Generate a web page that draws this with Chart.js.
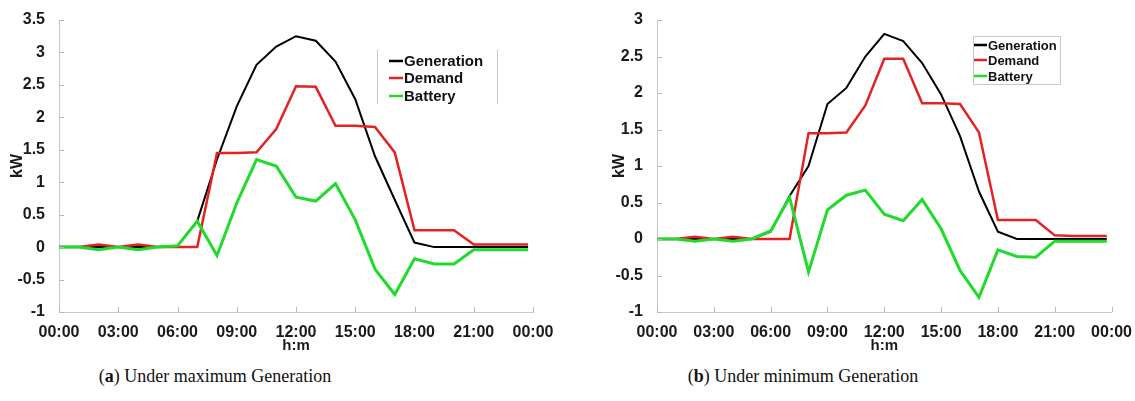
<!DOCTYPE html>
<html>
<head>
<meta charset="utf-8">
<script src="https://cdn.jsdelivr.net/npm/chart.js@4"></script>
<style>
    body { margin: 0; background: #fff; width: 1135px; height: 401px; position: relative; overflow: hidden; }
    .box { position: absolute; top: 0; height: 360px; }
    .caption { position: absolute; top: 366px; font-family: "Liberation Serif", serif; font-size: 18px; color: #111; transform: translateX(-50%); white-space: nowrap; }
</style>
</head>
<body>
<div class="box" style="left:0;width:560px"><canvas id="chartA" width="560" height="360"></canvas></div>
<div class="box" style="left:560px;width:575px"><canvas id="chartB" width="575" height="360"></canvas></div>
<div class="caption" style="left:215px">(<b>a</b>) Under maximum Generation</div>
<div class="caption" style="left:803px">(<b>b</b>) Under minimum Generation</div>
<script>
// hours of the day (last sample just before midnight)
const hours = [0, 1, 2, 3, 4, 5, 6, 7, 8, 9, 10, 11, 12, 13, 14, 15, 16, 17, 18, 19, 20, 21, 22, 23, 23.75];
const seriesNames = ["Generation", "Demand", "Battery"];
const xTicks = [0, 3, 6, 9, 12, 15, 18, 21, 24];

// (a) maximum generation, kW
const genMax = [0, 0, 0, 0, 0, 0, 0.02, 0.4, 1.35, 2.17, 2.81, 3.09, 3.25, 3.18, 2.86, 2.28, 1.4, 0.73, 0.07, 0, 0, 0, 0, 0, 0];
const demMax = [0, 0, 0.04, 0, 0.04, 0, 0, 0, 1.45, 1.45, 1.46, 1.82, 2.48, 2.47, 1.87, 1.87, 1.85, 1.46, 0.26, 0.26, 0.26, 0.04, 0.04, 0.04, 0.04];
const batMax = [0, 0, -0.04, 0, -0.04, 0, 0.02, 0.4, -0.13, 0.68, 1.35, 1.25, 0.77, 0.71, 0.98, 0.42, -0.34, -0.73, -0.18, -0.26, -0.26, -0.04, -0.04, -0.04, -0.04];

// (b) minimum generation, kW
const genMin = [0, 0, 0, 0, 0, 0, 0.1, 0.59, 1.0, 1.85, 2.07, 2.5, 2.81, 2.71, 2.41, 1.98, 1.41, 0.65, 0.1, 0, 0, 0, 0, 0, 0];
const demMin = [0, 0, 0.03, 0, 0.03, 0, 0, 0, 1.45, 1.45, 1.46, 1.83, 2.47, 2.47, 1.86, 1.86, 1.85, 1.46, 0.26, 0.26, 0.26, 0.05, 0.04, 0.04, 0.04];
const batMin = [0, 0, -0.03, 0, -0.03, 0, 0.11, 0.57, -0.45, 0.4, 0.6, 0.67, 0.34, 0.25, 0.54, 0.14, -0.43, -0.8, -0.15, -0.24, -0.25, -0.03, -0.03, -0.03, -0.03];

const colors = ["#000000", "#e52222", "#1fdc2c"];
const widths = [2, 2.5, 3];
const drawOrder = [2, 1, 0]; // battery on top, generation underneath
const FONT = "'Liberation Sans', Arial, sans-serif";

function pts(values) {
    return hours.map((h, i) => ({ x: h, y: values[i] }));
}

function fmtHour(v) {
    const h = v % 24;
    return (h < 10 ? "0" + h : "" + h) + ":00";
}

// small tick marks pointing into the plot, matlab style
const innerTicks = {
    id: "innerTicks",
    afterDraw(chart) {
        const ctx = chart.ctx;
        const xs = chart.scales.x, ys = chart.scales.y;
        ctx.save();
        ctx.strokeStyle = "#b8b8b8";
        ctx.lineWidth = 1;
        ctx.beginPath();
        xs.ticks.forEach(t => {
            const px = Math.round(xs.getPixelForValue(t.value)) + 0.5;
            ctx.moveTo(px, ys.bottom);
            ctx.lineTo(px, ys.bottom - 5);
        });
        ys.ticks.forEach(t => {
            const py = Math.round(ys.getPixelForValue(t.value)) + 0.5;
            ctx.moveTo(xs.left, py);
            ctx.lineTo(xs.left + 5, py);
        });
        ctx.stroke();
        ctx.restore();
    }
};

// legend box placed inside the plot
const boxLegend = {
    id: "boxLegend",
    afterDraw(chart, args, opts) {
        const ctx = chart.ctx;
        ctx.save();
        ctx.strokeStyle = "#c8c8c8";
        ctx.lineWidth = 1;
        ctx.beginPath();
        if (opts.full) {
            ctx.rect(opts.x + 0.5, opts.y + 0.5, opts.w, opts.h);
        } else {
            ctx.moveTo(opts.x + 0.5, opts.y);
            ctx.lineTo(opts.x + 0.5, opts.y + opts.h);
            ctx.moveTo(opts.x + opts.w + 0.5, opts.y);
            ctx.lineTo(opts.x + opts.w + 0.5, opts.y + opts.h);
        }
        ctx.stroke();
        ctx.font = "bold " + opts.size + "px " + FONT;
        ctx.textBaseline = "middle";
        chart.data.datasets.forEach((ds, i) => {
            const y = opts.rows[i];
            ctx.strokeStyle = ds.borderColor;
            ctx.lineWidth = 2.5;
            ctx.beginPath();
            ctx.moveTo(opts.lineX, y);
            ctx.lineTo(opts.lineX + opts.lineW, y);
            ctx.stroke();
            ctx.fillStyle = "#111";
            ctx.fillText(ds.label, opts.lineX + opts.lineW + 1, y + 1);
        });
        ctx.restore();
    }
};

function makeChart(id, series, yMax, padding, yWidth, legend) {
    const ctx = document.getElementById(id).getContext("2d");
    return new Chart(ctx, {
        type: "line",
        data: {
            datasets: series.map((vals, i) => ({
                label: seriesNames[i],
                data: pts(vals),
                borderColor: colors[i],
                borderWidth: widths[i],
                order: drawOrder[i],
                pointRadius: 0,
                tension: 0,
                fill: false
            }))
        },
        options: {
            responsive: false,
            animation: false,
            devicePixelRatio: 1,
            layout: { padding: padding },
            plugins: {
                legend: { display: false },
                tooltip: { enabled: false },
                boxLegend: legend
            },
            scales: {
                x: {
                    type: "linear",
                    min: 0,
                    max: 24,
                    afterBuildTicks: scale => { scale.ticks = xTicks.map(v => ({ value: v })); },
                    afterFit: scale => { scale.height = 48; },
                    grid: { display: false },
                    border: { color: "#c8c8c8", width: 1 },
                    ticks: {
                        padding: 3,
                        color: "#1a1a1a",
                        font: { family: FONT, size: 16, weight: "bold" },
                        maxRotation: 0,
                        callback: v => fmtHour(v)
                    },
                    title: {
                        display: true,
                        text: "h:m",
                        color: "#1a1a1a",
                        font: { family: FONT, size: 15, weight: "bold" },
                        padding: { top: 0, bottom: 5 }
                    }
                },
                y: {
                    min: -1,
                    max: yMax,
                    afterFit: scale => { scale.width = yWidth; },
                    grid: { display: false },
                    border: { color: "#c8c8c8", width: 1 },
                    ticks: {
                        stepSize: 0.5,
                        padding: 6,
                        color: "#1a1a1a",
                        font: { family: FONT, size: 16, weight: "bold" },
                        callback: v => "" + v
                    },
                    title: {
                        display: true,
                        text: "kW",
                        color: "#1a1a1a",
                        font: { family: FONT, size: 16, weight: "bold" },
                        padding: { top: 8, bottom: 0 }
                    }
                }
            }
        },
        plugins: [innerTicks, boxLegend]
    });
}

makeChart("chartA", [genMax, demMax, batMax], 3.5,
    { left: 0, top: 20, right: 27, bottom: 0 }, 59,
    { x: 377, y: 50, w: 120, h: 54, rows: [61, 78, 96], lineX: 389, lineW: 14, size: 15, full: false });

makeChart("chartB", [genMin, demMin, batMin], 3,
    { left: 42, top: 20, right: 22, bottom: 0 }, 55,
    { x: 413, y: 36, w: 87, h: 48, rows: [45, 60, 76], lineX: 414, lineW: 13, size: 13, full: true });
</script>
</body>
</html>
